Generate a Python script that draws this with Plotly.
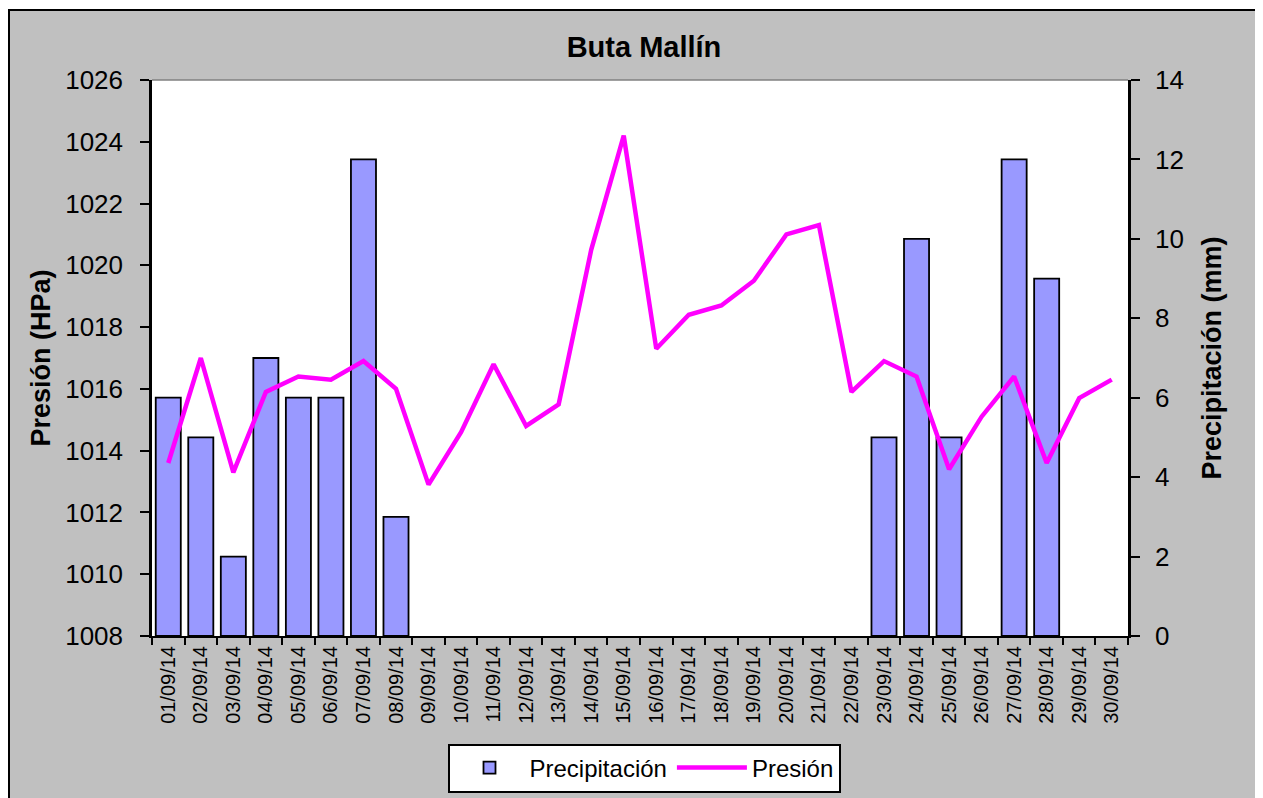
import plotly.graph_objects as go

dates = [f"{d:02d}/09/14" for d in range(1, 31)]
precip = [6, 5, 2, 7, 6, 6, 12, 3, 0, 0, 0, 0, 0, 0, 0, 0, 0, 0, 0, 0, 0, 0,
          5, 10, 5, 0, 12, 9, 0, 0]
presion = [1013.6, 1017.0, 1013.3, 1015.9, 1016.4, 1016.3, 1016.9, 1016.0,
           1012.9, 1014.6, 1016.8, 1014.8, 1015.5, 1020.5, 1024.2, 1017.3,
           1018.4, 1018.7, 1019.5, 1021.0, 1021.3, 1015.9, 1016.9, 1016.4,
           1013.4, 1015.1, 1016.4, 1013.6, 1015.7, 1016.3]

# page has an 8px body margin; work in figure coordinates
OFF = 8
W, H = 1263 - OFF, 798 - OFF
L, R, T, B = 152 - OFF, 1128 - OFF, 80 - OFF, 636 - OFF
def px(x):
    return (x - L) / (R - L)
def py(y):
    return (B - y) / (B - T)

font = "Liberation Sans, Arial, sans-serif"

# zero-precipitation days draw no bar
precip_bars = [v if v else None for v in precip]

fig = go.Figure()
fig.add_trace(go.Bar(x=dates, y=precip_bars, name="Precipitación", yaxis="y",
                     marker=dict(color="#9999FF", line=dict(color="black", width=1.8))))
fig.add_trace(go.Scatter(x=dates, y=presion, name="Presión", yaxis="y2", mode="lines",
                         line=dict(color="#FF00FF", width=4.5)))

fig.update_layout(
    width=W, height=H,
    margin=dict(l=L, r=W - R, t=T, b=H - B),
    paper_bgcolor="#C0C0C0", plot_bgcolor="white",
    bargap=0.23,
    font=dict(family=font, color="black"),
    title=dict(text="<b>Buta Mallín</b>", x=px(644 - OFF), xref="paper", xanchor="center",
               y=1 - (47 - OFF) / H, yanchor="middle", font=dict(size=29, family=font)),
    xaxis=dict(type="category", showline=True, linecolor="black", linewidth=2,
               ticks="outside", ticklen=7, tickwidth=2, tickcolor="black",
               tickson="boundaries", tickangle=-90, tickfont=dict(size=20),
               showgrid=False, mirror=False, automargin=False),
    yaxis=dict(range=[0, 14], dtick=2, side="right", showline=True, linecolor="black",
               linewidth=2.5, ticks="outside", ticklen=9, tickwidth=2, tickcolor="black",
               showgrid=False, zeroline=False, tickfont=dict(size=26),
               ticklabelstandoff=10, automargin=False,
               title=dict(text="<b>Precipitación (mm)</b>", font=dict(size=27), standoff=20)),
    yaxis2=dict(range=[1008, 1026], dtick=2, side="left", overlaying="y", showline=True,
                linecolor="black", linewidth=2.5, ticks="outside", ticklen=9, tickwidth=2,
                tickcolor="black", showgrid=False, zeroline=False, tickfont=dict(size=26),
                ticklabelstandoff=12, automargin=False,
                title=dict(text="<b>Presión (HPa)</b>", font=dict(size=27), standoff=7)),
    legend=dict(orientation="h", xref="container", yref="container",
                x=(644 - OFF) / W, xanchor="center", y=1 - (768 - OFF) / H,
                yanchor="middle", bgcolor="white", bordercolor="black", borderwidth=2,
                font=dict(size=24), tracegroupgap=0, itemwidth=70),
    shapes=[
        dict(type="line", xref="paper", yref="paper", x0=0, x1=1, y0=1, y1=1,
             line=dict(color="#808080", width=1.5)),
        # white strips outside the chart frame
        dict(type="rect", xref="paper", yref="paper", x0=px(-2), x1=px(W + 5), y0=py(-2), y1=py(2),
             fillcolor="white", line=dict(width=0), layer="above"),
        dict(type="rect", xref="paper", yref="paper", x0=px(1250), x1=px(W + 5), y0=py(-2), y1=py(H + 30),
             fillcolor="white", line=dict(width=0), layer="above"),
        dict(type="rect", xref="paper", yref="paper", x0=px(-2), x1=px(1), y0=py(-2), y1=py(H + 30),
             fillcolor="white", line=dict(width=0), layer="above"),
        # outer black border
        dict(type="rect", xref="paper", yref="paper", x0=px(1), x1=px(1250), y0=py(2), y1=py(H + 30),
             fillcolor="rgba(0,0,0,0)", line=dict(color="black", width=2), layer="above"),
    ],
)

fig.write_html("out.html")
